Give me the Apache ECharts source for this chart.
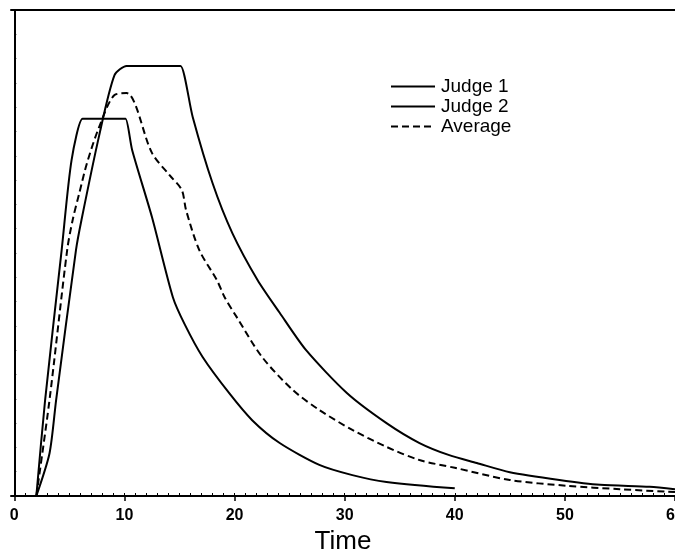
<!DOCTYPE html>
<html>
<head>
<meta charset="utf-8">
<script src="https://cdn.jsdelivr.net/npm/echarts@6/dist/echarts.min.js"></script>
<style>
html, body { margin: 0; padding: 0; background: #fff; }
#main { width: 675px; height: 550px; }
</style>
</head>
<body>
<div id="main"></div>
<script>
// time points and values (y is relative, no scale printed)
var judge1Time = [2, 3.2, 3.8, 5.6, 6.1, 7.7, 9.1, 10.2, 10.6, 14.8, 15.1, 16.2, 18.0, 19.8, 22.1, 24.1, 26.5, 30.2, 33.8, 36.8, 39.5, 42, 45, 49.5, 53.2, 57.7, 60];
var judge1Val  = [0, 8.8, 19.8, 50.6, 56.8, 74.1, 86.6, 88.5, 88.5, 88.5, 88.5, 78.0, 64.4, 54.1, 44.4, 37.7, 30.0, 21.2, 15.0, 10.9, 8.4, 6.8, 4.9, 3.3, 2.3, 1.9, 1.4];

var judge2Time = [2, 2.8, 4.3, 5.2, 6.2, 6.6, 9.8, 10.1, 10.7, 12.5, 14.4, 15.5, 17.1, 19.5, 21.6, 24.1, 27.7, 30.7, 33.8, 40];
var judge2Val  = [0, 19.8, 50.6, 69.1, 77.6, 77.6, 77.6, 77.6, 71.2, 57.4, 40.9, 35.2, 28.6, 21.2, 15.6, 10.9, 6.4, 4.3, 2.9, 1.6];

var avgTime = [2, 3.2, 4.8, 5.3, 5.9, 6.6, 7.7, 9.1, 10.2, 12.5, 14.1, 15.2, 15.6, 16.8, 18.4, 19.1, 20.2, 22.5, 25.3, 27.7, 30.7, 33.8, 36.8, 40, 45, 50.2, 55, 60];
var avgVal  = [0, 19.8, 50.6, 56.8, 62.3, 68.5, 75.9, 82.5, 82.9, 70.6, 66.0, 63.0, 58.8, 50.6, 44.4, 40.9, 36.8, 28.6, 21.8, 17.7, 13.6, 10.1, 7.4, 5.8, 3.3, 2.1, 1.4, 0.8];

var xLabels = [0, 10, 20, 30, 40, 50, 60];
var seriesNames = ['Judge 1', 'Judge 2', 'Average'];

function pairs(t, v) {
	var out = [];
	for (var i = 0; i < t.length; i++) {
		out.push([t[i], v[i]]);
	}
	return out;
}

// minor ticks every 1 time unit
var minorTicks = [];
for (var i = 0; i <= 60; i++) {
	minorTicks.push(i);
}

var myChart = echarts.init(document.getElementById('main'));

var option = {
	backgroundColor: '#fff',
	animation: false,
	grid: { left: 11, right: 0, top: 10, bottom: 54, containLabel: false, outerBoundsMode: 'none' },
	legend: {
		orient: 'vertical',
		left: 385,
		top: 72,
		itemWidth: 44,
		itemHeight: 14,
		itemGap: 1,
		data: seriesNames,
		itemStyle: { opacity: 0, borderWidth: 0 },
		textStyle: { color: '#000', fontSize: 19, fontFamily: 'Liberation Sans', padding: [0, 0, 0, 1] }
	},
	xAxis: [
		{
			type: 'value',
			position: 'bottom',
			min: -0.3,
			max: 60,
			name: 'Time',
			nameLocation: 'middle',
			nameGap: 33,
			nameTextStyle: { color: '#000', fontSize: 26, fontFamily: 'Liberation Sans' },
			axisLine: { lineStyle: { color: '#000', width: 2 } },
			axisTick: { show: true, inside: true, length: 3, customValues: minorTicks, lineStyle: { color: '#000', width: 1 } },
			axisLabel: { customValues: xLabels, color: '#000', fontSize: 16, fontWeight: 'bold', fontFamily: 'Liberation Sans', margin: 12 },
			splitLine: { show: false }
		},
		{
			type: 'value',
			position: 'bottom',
			min: -0.3,
			max: 60,
			axisLine: { show: false },
			axisTick: { show: true, inside: false, length: 5, customValues: xLabels, lineStyle: { color: '#000', width: 1.5 } },
			axisLabel: { show: false },
			splitLine: { show: false }
		},
		{
			type: 'value',
			position: 'top',
			min: -0.3,
			max: 60,
			axisLine: { lineStyle: { color: '#000', width: 2 } },
			axisTick: { show: false },
			axisLabel: { show: false },
			splitLine: { show: false }
		}
	],
	yAxis: {
		type: 'value',
		min: 0,
		max: 100,
		interval: 5,
		axisLine: { show: true, lineStyle: { color: '#000', width: 2 } },
		axisTick: { show: true, inside: true, length: 2, lineStyle: { color: '#000', width: 1 } },
		axisLabel: { show: false },
		splitLine: { show: false }
	},
	series: [
		{
			name: 'Judge 1',
			type: 'line',
			symbol: 'none',
			smooth: 0.25,
			data: pairs(judge1Time, judge1Val),
			itemStyle: { color: '#000' },
			lineStyle: { color: '#000', width: 2 }
		},
		{
			name: 'Judge 2',
			type: 'line',
			symbol: 'none',
			smooth: 0.25,
			data: pairs(judge2Time, judge2Val),
			itemStyle: { color: '#000' },
			lineStyle: { color: '#000', width: 2 }
		},
		{
			name: 'Average',
			type: 'line',
			symbol: 'none',
			smooth: 0.3,
			data: pairs(avgTime, avgVal),
			itemStyle: { color: '#000' },
			lineStyle: { color: '#000', width: 2, type: [7, 4] }
		}
	]
};

myChart.setOption(option);
</script>
</body>
</html>
